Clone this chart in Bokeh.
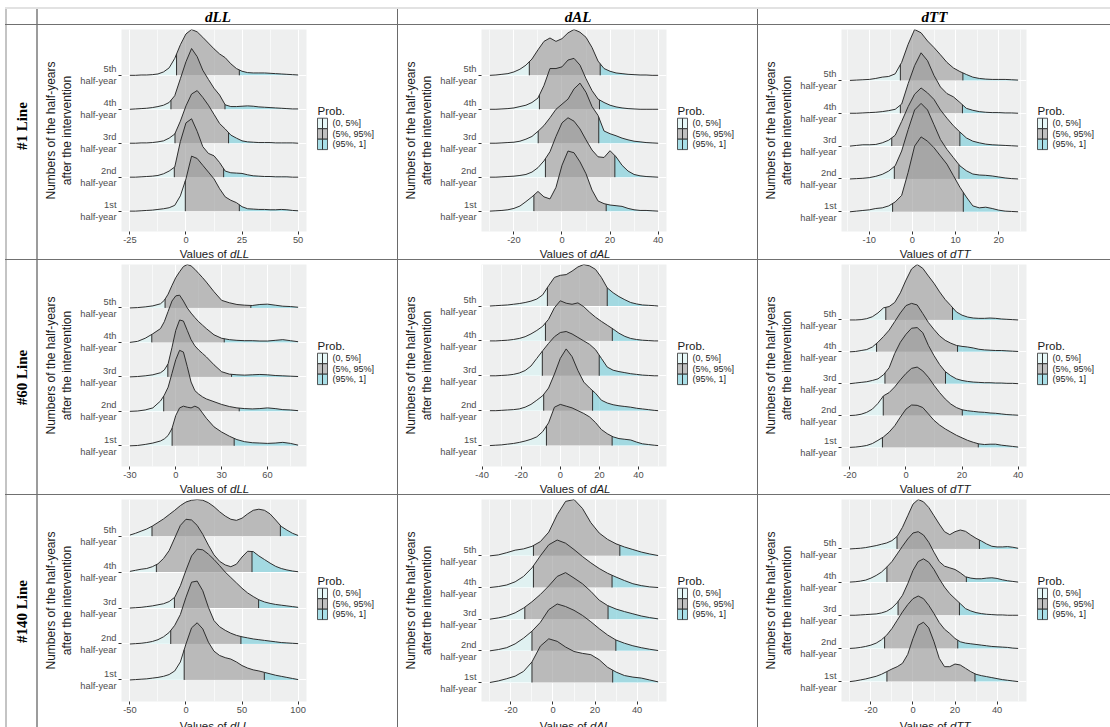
import numpy as np
from bokeh.plotting import figure
from bokeh.layouts import row, column
from bokeh.models import Range1d, FixedTicker, Div
from bokeh.core.properties import value
from bokeh.embed import file_html
from bokeh.resources import INLINE

# ---------------------------------------------------------------- categories
half_years = ["1st", "2nd", "3rd", "4th", "5th"]
line_names = ["#1 Line", "#60 Line", "#140 Line"]
variables = ["dLL", "dAL", "dTT"]
prob_labels = ["(0, 5%]", "(5%, 95%]", "(95%, 1]"]

# ---------------------------------------------------------------- #1 Line
L1_dLL_x = [-25, -22.5, -20, -17.5, -15, -12.5, -10, -7.5, -5, -2.5, 0, 2.5, 5, 7.5, 10, 12.5,
            15, 17.5, 20, 22.5, 25, 27.5, 30, 32.5, 35, 37.5, 40, 42.5, 45, 47.5, 50]
L1_dLL_h = [
    [0, 0, .01, .02, .03, .05, .07, .1, .17, .45, .95, 1.62, 1.55, 1.35, 1.15, .95, .66, .42, .32, .25, .13, .07, .06, .05, .05, .04, .04, .05, .04, .02, .01],
    [0, 0, .01, .02, .03, .05, .1, .18, .3, 1.05, 1.6, 1.72, 1.35, .9, .7, .63, .43, .18, .13, .12, .11, .07, .04, .03, .02, .02, .01, .01, .01, 0, 0],
    [0, 0, .01, .01, .02, .04, .07, .15, .27, .65, 1.1, 1.45, 1.55, 1.35, 1.12, .85, .58, .42, .24, .15, .07, .04, .03, .02, .02, .02, .01, .01, .01, .01, 0],
    [0, .01, .02, .03, .05, .08, .12, .2, .4, .9, 1.4, 1.79, 1.55, 1.15, .88, .62, .42, .13, .08, .08, .09, .1, .09, .07, .06, .05, .04, .03, .02, .01, .01],
    [0, 0, .01, .01, .02, .04, .1, .22, .5, .9, 1.22, 1.35, 1.28, 1.12, .95, .78, .63, .52, .34, .2, .12, .08, .07, .07, .07, .06, .05, .04, .03, .02, .01],
]
L1_dLL_q05 = [-0.3, -5.2, -4.9, -6.7, -4.2]
L1_dLL_q95 = [23.8, 16.8, 19.0, 17.4, 23.8]
L1_dLL_ticks = [-25, 0, 25, 50]

L1_dAL_x = [-30, -27.5, -25, -22.5, -20, -17.5, -15, -12.5, -10, -7.5, -5, -2.5, 0, 2.5, 5, 7.5,
            10, 12.5, 15, 17.5, 20, 22.5, 25, 27.5, 30, 32.5, 35, 37.5, 40]
L1_dAL_h = [
    [0, .01, .02, .04, .08, .15, .28, .42, .58, .42, .36, .7, 1.35, 1.77, 1.72, 1.45, 1.1, .62, .3, .22, .18, .16, .14, .08, .04, .02, .02, .01, 0],
    [0, 0, .01, .02, .03, .05, .08, .15, .28, .48, .75, 1.2, 1.6, 1.75, 1.65, 1.42, 1.1, .8, .6, .58, .78, .6, .35, .18, .08, .04, .02, .01, 0],
    [0, 0, .01, .02, .03, .06, .12, .2, .35, .52, .75, 1.0, 1.15, 1.3, 1.6, 1.77, 1.5, 1.08, .82, .36, .28, .22, .15, .1, .06, .04, .02, .01, 0],
    [0, 0, .01, .02, .04, .08, .12, .2, .33, .7, 1.2, 1.2, 1.25, 1.45, 1.5, 1.3, .9, .55, .3, .2, .12, .07, .04, .02, .01, 0, 0, 0, 0],
    [0, .01, .03, .05, .1, .18, .3, .48, .75, 1.0, 1.1, 1.0, 1.08, 1.25, 1.35, 1.27, 1.12, .82, .42, .2, .12, .07, .05, .03, .02, .01, .01, 0, 0],
]
L1_dAL_q05 = [-11.7, -6.9, -9.9, -9.4, -13.6]
L1_dAL_q95 = [18.4, 22.0, 15.3, 15.6, 15.9]
L1_dAL_ticks = [-20, 0, 20, 40]

L1_dTT_x = [-14.5, -13, -11.5, -10, -8.5, -7, -5.5, -4, -2.5, -1, 0.5, 2, 3.5, 5, 6.5, 8, 9.5,
            11, 12.5, 14, 15.5, 17, 18.5, 20, 21.5, 23, 24.5]
L1_dTT_h = [
    [0, .02, .04, .06, .1, .12, .18, .3, .5, 1.2, 2.0, 2.28, 2.15, 1.95, 1.7, 1.45, 1.1, .75, .45, .18, .12, .14, .1, .05, .02, .01, 0],
    [0, .01, .02, .04, .08, .14, .24, .4, .85, 1.5, 2.1, 2.3, 2.1, 1.65, 1.2, .9, .65, .4, .25, .15, .12, .11, .09, .06, .03, .01, 0],
    [0, .02, .04, .04, .05, .1, .18, .33, .75, 1.2, 1.58, 1.77, 1.62, 1.42, 1.1, .85, .62, .43, .25, .15, .1, .06, .04, .03, .02, .01, 0],
    [0, 0, .01, .02, .03, .05, .08, .12, .28, .9, 1.45, 1.84, 1.6, 1.15, .8, .6, .5, .33, .15, .09, .05, .03, .02, .02, .01, .01, 0],
    [0, .01, .02, .03, .06, .1, .12, .2, .55, 1.1, 1.55, 1.45, 1.2, 1.0, .78, .55, .38, .27, .18, .1, .06, .04, .03, .03, .03, .02, .01],
]
L1_dTT_q05 = [-4.6, -4.2, -4.8, -2.8, -2.8]
L1_dTT_q95 = [11.8, 10.8, 11.0, 11.6, 11.7]
L1_dTT_ticks = [-10, 0, 10, 20]

# ---------------------------------------------------------------- #60 Line
L60_dLL_x = [-30, -25, -20, -15, -10, -7.5, -5, -2.5, 0, 2.5, 5, 7.5, 10, 12.5, 15, 17.5, 20,
             25, 30, 35, 40, 45, 50, 55, 60, 65, 70, 75, 80]
L60_dLL_h = [
    [0, .01, .04, .08, .14, .2, .3, .5, .88, 1.1, 1.15, 1.12, 1.1, 1.15, 1.1, .95, .8, .55, .4, .28, .18, .12, .09, .08, .07, .08, .1, .07, .02],
    [0, .01, .04, .1, .3, .47, .7, 1.1, 1.5, 1.77, 1.72, 1.3, .85, .6, .5, .42, .36, .28, .2, .14, .1, .08, .07, .08, .1, .08, .05, .04, .02],
    [0, .01, .03, .06, .12, .2, .38, .85, 1.35, 1.65, 1.62, 1.35, 1.08, .9, .78, .68, .58, .35, .15, .08, .06, .05, .06, .07, .06, .04, .03, .02, .01],
    [0, .03, .12, .25, .4, .6, .9, 1.2, 1.35, 1.37, 1.2, 1.0, .85, .72, .6, .5, .4, .22, .12, .08, .06, .05, .05, .04, .04, .06, .08, .05, .02],
    [0, .01, .03, .06, .12, .22, .4, .65, .88, 1.05, 1.2, 1.26, 1.22, 1.12, 1.0, .88, .75, .47, .22, .15, .1, .08, .07, .1, .11, .08, .05, .04, .02],
]
L60_dLL_q05 = [-2.4, -7.9, -5.2, -15.7, -7.0]
L60_dLL_q95 = [38.2, 41.5, 36.5, 31.7, 49.1]
L60_dLL_ticks = [-30, 0, 30, 60]

L60_dAL_x = [-36, -33, -30, -27, -24, -21, -18, -15, -12, -9, -6, -3, 0, 3, 6, 9, 12, 15, 18, 21,
             24, 27, 30, 33, 36, 39, 42, 45, 48, 50]
L60_dAL_h = [
    [0, .01, .02, .04, .06, .09, .13, .18, .25, .4, .65, 1.1, 1.18, 1.13, 1.08, 1.0, .92, .82, .66, .46, .34, .25, .2, .18, .16, .1, .05, .03, .01, 0],
    [0, 0, .01, .02, .03, .05, .1, .18, .3, .43, .65, 1.05, 1.5, 1.77, 1.55, 1.15, .82, .65, .5, .3, .22, .17, .14, .12, .1, .07, .05, .03, .01, 0],
    [0, 0, .01, .02, .04, .08, .15, .28, .5, .72, .93, 1.12, 1.24, 1.27, 1.2, 1.1, 1.0, .9, .75, .5, .25, .16, .12, .09, .06, .04, .02, .01, 0, 0],
    [0, 0, .01, .02, .04, .07, .12, .2, .3, .42, .62, .95, 1.15, 1.08, 1.05, 1.09, .98, .82, .68, .56, .45, .34, .22, .13, .07, .04, .02, .01, 0, 0],
    [0, .01, .02, .03, .05, .07, .1, .14, .2, .32, .58, .82, .88, .9, 1.0, 1.12, 1.19, 1.15, 1.05, .82, .52, .38, .27, .18, .1, .06, .03, .02, .01, 0],
]
L60_dAL_q05 = [-7.1, -8.5, -9.2, -7.6, -6.6]
L60_dAL_q95 = [26.5, 16.5, 19.9, 26.6, 24.0]
L60_dAL_ticks = [-40, -20, 0, 20, 40]

L60_dTT_x = [-20, -18, -16, -14, -12, -10, -8, -6, -4, -2, 0, 2, 4, 6, 8, 10, 12, 14, 16, 18, 20,
             22, 24, 26, 28, 30, 32, 34, 36, 38, 40]
L60_dTT_h = [
    [0, .01, .03, .06, .12, .22, .33, .48, .68, .95, 1.2, 1.33, 1.32, 1.25, 1.05, .85, .7, .58, .48, .38, .3, .22, .16, .11, .09, .1, .1, .07, .05, .03, .01],
    [0, .01, .04, .1, .2, .38, .62, .72, .9, 1.12, 1.32, 1.48, 1.52, 1.4, 1.2, .95, .72, .52, .36, .25, .18, .15, .13, .11, .1, .08, .07, .05, .03, .02, .01],
    [0, .02, .04, .06, .1, .15, .28, .5, .95, 1.3, 1.55, 1.74, 1.76, 1.6, 1.2, .88, .6, .38, .25, .15, .1, .07, .05, .04, .03, .03, .02, .02, .01, .01, 0],
    [0, .01, .04, .07, .15, .3, .48, .68, .95, 1.22, 1.45, 1.52, 1.47, 1.2, .92, .7, .5, .36, .27, .2, .17, .15, .12, .08, .06, .05, .04, .04, .03, .02, .01],
    [0, 0, .01, .04, .1, .22, .38, .42, .55, .85, 1.25, 1.6, 1.74, 1.62, 1.38, 1.15, .88, .64, .45, .25, .15, .09, .06, .05, .05, .06, .05, .03, .02, .01, 0],
]
L60_dTT_q05 = [-8.4, -8.1, -7.5, -10.5, -7.2]
L60_dTT_q95 = [25.8, 20.1, 14.1, 18.4, 16.6]
L60_dTT_ticks = [-20, 0, 20, 40]

# ---------------------------------------------------------------- #140 Line
L140_dLL_x = [-50, -45, -40, -35, -30, -25, -20, -15, -10, -5, 0, 5, 10, 15, 20, 25, 30, 35, 40,
              45, 50, 55, 60, 65, 70, 75, 80, 85, 90, 95, 100]
L140_dLL_h = [
    [0, .01, .02, .03, .05, .07, .1, .15, .25, .5, 1.0, 1.45, 1.59, 1.42, 1.05, .8, .68, .62, .58, .5, .4, .33, .28, .25, .21, .17, .13, .1, .07, .04, .01],
    [0, .01, .02, .04, .07, .12, .2, .32, .52, .82, 1.3, 1.72, 1.75, 1.48, 1.02, .65, .48, .38, .3, .24, .2, .17, .14, .12, .1, .08, .06, .04, .03, .02, .01],
    [0, .01, .02, .04, .06, .09, .12, .18, .3, .62, 1.05, 1.45, 1.64, 1.62, 1.5, 1.35, 1.18, 1.0, .85, .7, .55, .42, .32, .23, .17, .13, .1, .08, .06, .04, .02],
    [.02, .05, .08, .1, .15, .23, .38, .6, .95, 1.3, 1.47, 1.45, 1.3, 1.05, .75, .48, .3, .2, .15, .22, .42, .58, .57, .45, .35, .25, .16, .1, .06, .03, .01],
    [.03, .08, .14, .2, .28, .38, .48, .6, .72, .85, .95, 1.0, 1.02, 1.0, .93, .82, .68, .56, .47, .44, .5, .62, .72, .75, .72, .62, .45, .27, .17, .08, .02],
]
L140_dLL_q05 = [-1.6, -13.6, -10.3, -26.4, -30.3]
L140_dLL_q95 = [69.9, 49.0, 64.8, 58.9, 84.2]
L140_dLL_ticks = [-50, 0, 50, 100]

L140_dAL_x = [-30, -26, -22, -18, -14, -10, -6, -2, 2, 6, 10, 14, 18, 22, 26, 30, 34, 38, 42, 46, 50]
L140_dAL_h = [
    [0, .05, .12, .2, .35, .65, 1.15, 1.38, 1.3, 1.12, .98, .92, .88, .72, .48, .33, .22, .17, .14, .08, .02],
    [0, .04, .1, .22, .4, .62, .9, 1.3, 1.48, 1.4, 1.28, 1.12, .92, .7, .5, .34, .24, .16, .1, .05, .01],
    [0, .04, .1, .2, .35, .55, .78, 1.05, 1.35, 1.47, 1.3, 1.12, .88, .6, .43, .32, .24, .17, .1, .05, .01],
    [0, .03, .08, .18, .35, .62, 1.0, 1.35, 1.5, 1.4, 1.2, .98, .78, .6, .45, .33, .22, .12, .06, .02, 0],
    [0, .03, .1, .18, .22, .3, .45, .75, 1.3, 1.72, 1.78, 1.5, 1.05, .72, .52, .38, .28, .2, .12, .06, .01],
]
L140_dAL_q05 = [-10.0, -10.0, -13.4, -9.3, -9.3]
L140_dAL_q95 = [28.4, 29.9, 26.2, 28.1, 31.8]
L140_dAL_ticks = [-20, 0, 20, 40]

L140_dTT_x = [-30, -27.5, -25, -22.5, -20, -17.5, -15, -12.5, -10, -7.5, -5, -2.5, 0, 2.5, 5, 7.5,
              10, 12.5, 15, 17.5, 20, 22.5, 25, 27.5, 30, 32.5, 35, 37.5, 40, 42.5, 45, 47.5, 50]
L140_dTT_h = [
    [0, .02, .05, .08, .12, .16, .22, .3, .38, .45, .55, .82, 1.3, 1.7, 1.79, 1.62, 1.2, .7, .45, .45, .53, .5, .4, .3, .22, .18, .15, .12, .09, .06, .04, .02, 0],
    [0, .01, .03, .06, .1, .16, .26, .4, .6, .85, 1.1, 1.32, 1.5, 1.58, 1.5, 1.3, 1.05, .78, .58, .45, .3, .2, .16, .14, .12, .1, .08, .06, .05, .04, .03, .01, 0],
    [0, 0, .01, .02, .03, .04, .07, .12, .22, .38, .6, .95, 1.35, 1.62, 1.7, 1.6, 1.38, 1.1, .85, .65, .5, .35, .2, .13, .08, .05, .03, .02, .01, .01, 0, 0, 0],
    [0, .01, .03, .06, .12, .2, .3, .45, .62, .85, 1.08, 1.3, 1.48, 1.52, 1.42, 1.2, .9, .62, .48, .43, .38, .28, .16, .12, .1, .1, .12, .13, .11, .07, .04, .02, 0],
    [0, .01, .02, .04, .07, .1, .14, .18, .25, .38, .65, 1.0, 1.35, 1.49, 1.42, 1.25, 1.0, .75, .52, .43, .52, .57, .53, .42, .32, .24, .15, .08, .06, .06, .07, .05, .02],
]
L140_dTT_q05 = [-12.4, -13.5, -7.1, -12.4, -7.6]
L140_dTT_q95 = [29.5, 21.3, 22.1, 25.4, 31.6]
L140_dTT_ticks = [-20, 0, 20, 40]

# ---------------------------------------------------------------- styling
SANS = "Liberation Sans"
SERIF = "Liberation Serif"
PANEL_BG = "#EEEFEF"
FILLS = ["#D6F2F2", "#9A9A9A", "#74CCD8"]
FILL_ALPHA = 0.62
INK = "#2E2E2E"
TICK_TXT = "#4D4D4D"
TITLE_TXT = "#1A1A1A"

PLOT_W = 272          # width of the ridge figure (y axis + panel + small gap)
PLOT_H = 222          # height of the ridge figure (panel + x ticks)
FRAME_L = 83          # room for the y axis
FRAME_W = 185


def bar(w, h, color):
    return Div(width=w, height=h, margin=0, styles={"background-color": color})


def blank_fig(w, h):
    p = figure(width=w, height=h, x_range=Range1d(0, w), y_range=Range1d(h, 0),
               x_axis_type=None, y_axis_type=None, output_backend="svg",
               toolbar_location=None, min_border=0, outline_line_color=None,
               background_fill_color="white", border_fill_color="white")
    return p


def text_cell(txt, w, h, angle, size, style, frac=0.5):
    p = blank_fig(w, h)
    p.text(x=[w / 2], y=[h * frac], text=[txt], angle=angle, text_align="center",
           text_baseline="middle", text_font=value(SERIF), text_font_style=style,
           text_font_size=size, text_color="black")
    return p


def legend_fig(w, h):
    p = blank_fig(w, h)
    key_x, key_w, key_h, key_top = 7, 10, 11.5, 97.5
    tops = [key_top + k * key_h for k in range(3)]
    bots = [t + key_h for t in tops]
    mids = [t + key_h / 2 for t in tops]
    p.text(x=[key_x], y=[key_top - 8], text=["Prob."], text_align="left",
           text_baseline="middle", text_font=value(SANS), text_font_size="11.5px",
           text_color=TITLE_TXT)
    p.quad(left=key_x, right=key_x + key_w, top=tops, bottom=bots, fill_color=FILLS,
           fill_alpha=FILL_ALPHA, line_color=INK, line_width=0.8)
    p.segment(x0=[key_x + key_w / 2] * 3, y0=tops, x1=[key_x + key_w / 2] * 3, y1=bots,
              line_color=INK, line_width=1)
    p.text(x=[key_x + key_w + 5] * 3, y=mids, text=prob_labels, text_align="left",
           text_baseline="middle", text_font=value(SANS), text_font_size="9px",
           text_color=TITLE_TXT)
    return p


def title_strip(var, w, h):
    p = blank_fig(w, h)
    mid = FRAME_L + FRAME_W / 2
    p.text(x=[mid + 12.8], y=[6], text=["Values of"], text_align="right",
           text_baseline="middle", text_font=value(SANS), text_font_size="11.5px",
           text_color=TITLE_TXT)
    p.text(x=[mid + 16], y=[6], text=[var], text_align="left", text_baseline="middle",
           text_font=value(SANS), text_font_size="11.5px", text_font_style="italic",
           text_color=TITLE_TXT)
    return p


def ridge_fig(xs, dens, q05, q95, ticks):
    xs = np.asarray(xs, dtype=float)
    span = xs[-1] - xs[0]
    x_rng = Range1d(xs[0] - 0.05 * span, xs[-1] + 0.05 * span)
    y_top = max(k + 1 + max(d) for k, d in enumerate(dens))
    y_rng = Range1d(0.4, y_top)
    p = figure(width=PLOT_W, height=PLOT_H, x_range=x_rng, y_range=y_rng,
               output_backend="svg", toolbar_location=None, min_border_left=FRAME_L,
               min_border_right=PLOT_W - FRAME_L - FRAME_W, min_border_top=4,
               min_border_bottom=16, background_fill_color=PANEL_BG,
               border_fill_color="white", outline_line_color=None)

    step = ticks[1] - ticks[0]
    minor = [t + step / 2 for t in [ticks[0] - step] + ticks]
    minor = [m for m in minor if x_rng.start < m < x_rng.end]
    xt = FixedTicker(ticks=ticks, minor_ticks=minor)
    p.xaxis.ticker = xt
    p.xgrid.ticker = xt
    p.xaxis.major_label_overrides = {t: str(t) for t in ticks}
    yt = FixedTicker(ticks=[1, 2, 3, 4, 5])
    p.yaxis.ticker = yt
    p.ygrid.ticker = yt
    p.yaxis.major_label_overrides = {k + 1: f"{hy}\nhalf-year" for k, hy in enumerate(half_years)}

    for ax in (p.xaxis, p.yaxis):
        ax.axis_line_color = None
        ax.major_tick_line_color = "#333333"
        ax.major_tick_out = 3
        ax.major_tick_in = 0
        ax.minor_tick_line_color = None
        ax.major_label_text_font = SANS
        ax.major_label_text_font_size = "9.3px"
        ax.major_label_text_color = TICK_TXT
        ax.major_label_standoff = 2
    p.xaxis.major_label_standoff = 1
    p.yaxis.axis_label = "Numbers of the half-years\nafter the intervention"
    p.yaxis.axis_label_text_font = SANS
    p.yaxis.axis_label_text_font_size = "12px"
    p.yaxis.axis_label_text_font_style = "normal"
    p.yaxis.axis_label_text_color = TITLE_TXT
    p.yaxis.axis_label_standoff = 3

    p.xgrid.grid_line_color = "white"
    p.xgrid.grid_line_width = 1.1
    p.xgrid.minor_grid_line_color = "white"
    p.xgrid.minor_grid_line_width = 0.6
    p.ygrid.grid_line_color = "white"
    p.ygrid.grid_line_width = 1.2

    # ridges, drawn from the top one down so lower ridges overlap upper ones
    for k in range(4, -1, -1):
        base = k + 1
        hk = np.asarray(dens[k], dtype=float)
        a, b = q05[k], q95[k]
        for (lo, hi), col in zip([(xs[0], a), (a, b), (b, xs[-1])], FILLS):
            inside = xs[(xs > lo) & (xs < hi)]
            px = np.concatenate([[lo], inside, [hi]])
            ph = np.interp(px, xs, hk)
            p.varea(x=px, y1=np.full(len(px), float(base)), y2=base + ph,
                    fill_color=col, fill_alpha=FILL_ALPHA)
        p.line(xs, base + hk, line_color=INK, line_width=1)
        qh = np.interp([a, b], xs, hk)
        p.segment(x0=[a, b], y0=[base, base], x1=[a, b], y1=base + qh,
                  line_color=INK, line_width=1)
    return p


panels = [
    [(L1_dLL_x, L1_dLL_h, L1_dLL_q05, L1_dLL_q95, L1_dLL_ticks),
     (L1_dAL_x, L1_dAL_h, L1_dAL_q05, L1_dAL_q95, L1_dAL_ticks),
     (L1_dTT_x, L1_dTT_h, L1_dTT_q05, L1_dTT_q95, L1_dTT_ticks)],
    [(L60_dLL_x, L60_dLL_h, L60_dLL_q05, L60_dLL_q95, L60_dLL_ticks),
     (L60_dAL_x, L60_dAL_h, L60_dAL_q05, L60_dAL_q95, L60_dAL_ticks),
     (L60_dTT_x, L60_dTT_h, L60_dTT_q05, L60_dTT_q95, L60_dTT_ticks)],
    [(L140_dLL_x, L140_dLL_h, L140_dLL_q05, L140_dLL_q95, L140_dLL_ticks),
     (L140_dAL_x, L140_dAL_h, L140_dAL_q05, L140_dAL_q95, L140_dAL_ticks),
     (L140_dTT_x, L140_dTT_h, L140_dTT_q05, L140_dTT_q95, L140_dTT_ticks)],
]

COL_W = [359, 359, 352]
ROW_H = [234, 234, 232]
LABEL_FRAC = [0.43, 0.5, 0.5]
OUTER = "#C4C4C4"
INNER_V = "#6A6A6A"
INNER_H = "#707070"

rows = [bar(1110, 7, "white"),
        row(bar(5, 2, "white"), bar(1105, 2, "#E2E2E2"))]

header = [bar(5, 15, "white"), bar(2, 15, OUTER), bar(29, 15, "white"), bar(2, 15, "#9C9C9C")]
for j, var in enumerate(variables):
    if j:
        header.append(bar(1, 15, INNER_V))
    header.append(text_cell(var, COL_W[j], 15, 0, "15px", "bold italic"))
rows.append(row(*header))

for i, name in enumerate(line_names):
    rows.append(row(bar(5, 1, "white"), bar(1105, 1, INNER_H)))
    h = ROW_H[i]
    cells = [bar(5, h, "white"), bar(2, h, OUTER),
             text_cell(name, 29, h, np.pi / 2, "15px", "bold", LABEL_FRAC[i]),
             bar(2, h, "#9C9C9C")]
    for j in range(3):
        if j:
            cells.append(bar(1, h, INNER_V))
        xs, dens, q05, q95, ticks = panels[i][j]
        top_part = row(ridge_fig(xs, dens, q05, q95, ticks),
                       legend_fig(COL_W[j] - PLOT_W, PLOT_H))
        cells.append(column(top_part, title_strip(variables[j], COL_W[j], h - PLOT_H)))
    rows.append(row(*cells))

page = column(*rows)
open("out.html", "w").write(file_html(page, INLINE))
